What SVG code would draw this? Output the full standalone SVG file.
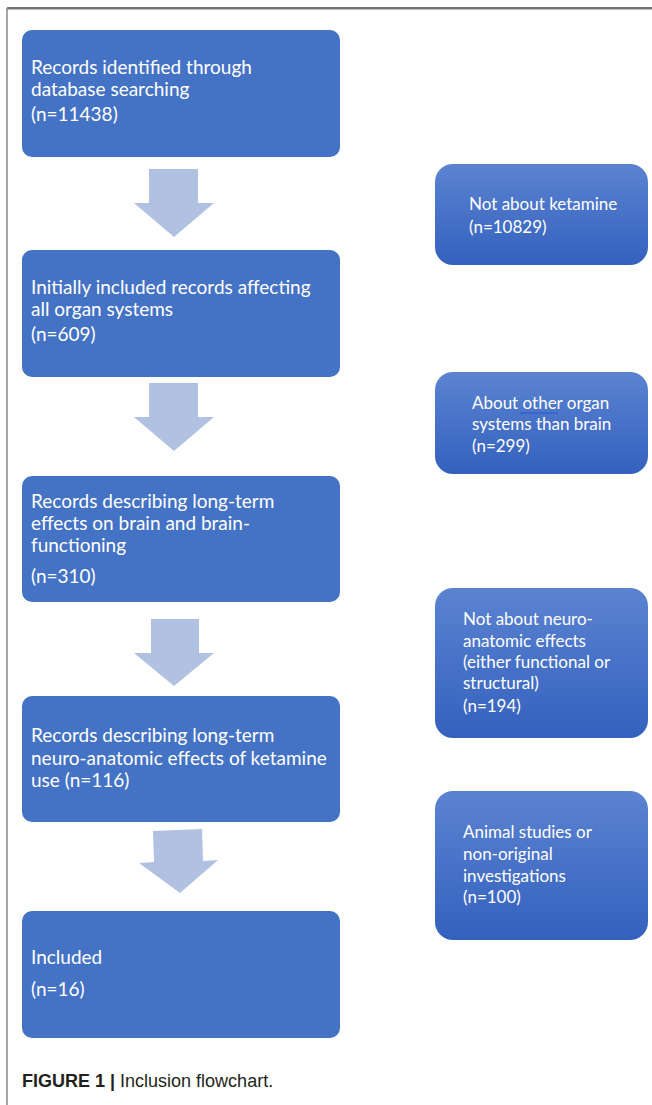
<svg xmlns="http://www.w3.org/2000/svg" width="652" height="1105" viewBox="0 0 652 1105">
<defs>
<linearGradient id="gr" x1="0" y1="0" x2="0" y2="1">
<stop offset="0" stop-color="#5b83d1"/>
<stop offset="1" stop-color="#3461be"/>
</linearGradient>
</defs>
<style>
.lb{fill:#4472c4}
.rb{fill:url(#gr)}
.lt{font-family:Lato,"Liberation Sans",sans-serif;font-size:19px;fill:#fff}
.rt{font-family:Lato,"Liberation Sans",sans-serif;font-size:17px;fill:#fff}
.ar{fill:#b1c1e1}
.cap{font-family:"Liberation Sans",Arial,sans-serif;font-size:18px;fill:#231f20}
</style>
<rect width="652" height="1105" fill="#fff"/>
<g id="frame">
<line x1="7" y1="8" x2="652" y2="8" stroke="#444" stroke-width="1.5"/>
<line x1="7" y1="9.5" x2="652" y2="9.5" stroke="#bbb" stroke-width="1"/>
<line x1="7" y1="8" x2="7" y2="1105" stroke="#888" stroke-width="1.5"/>
</g>
<g id="connectors">
<polygon class="ar" points="149,169 198,169 198,203 214,203 174,237 134,203 149,203"/>
<polygon class="ar" points="149,383 198,383 198,417 214,417 174,451 134,417 149,417"/>
<polygon class="ar" points="151,619 199,619 199,653 214,653 174,686 134,653 151,653"/>
<polygon class="ar" points="153,831 202,829 203,861 218,860 180,893 139,863 154,862"/>
</g>
<g id="n1">
<rect class="lb" x="22" y="30" width="318" height="127" rx="10"/>
<text class="lt" x="31" y="74">Records identified through</text>
<text class="lt" x="31" y="96">database searching</text>
<text class="lt" x="31" y="121">(n=11438)</text>
</g>
<g id="n2">
<rect class="lb" x="22" y="250" width="318" height="127" rx="10"/>
<text class="lt" x="31" y="294">Initially included records affecting</text>
<text class="lt" x="31" y="316">all organ systems</text>
<text class="lt" x="31" y="341">(n=609)</text>
</g>
<g id="n3">
<rect class="lb" x="22" y="476" width="318" height="126" rx="10"/>
<text class="lt" x="31" y="508">Records describing long-term</text>
<text class="lt" x="31" y="530">effects on brain and brain-</text>
<text class="lt" x="31" y="552">functioning</text>
<text class="lt" x="31" y="583">(n=310)</text>
</g>
<g id="n4">
<rect class="lb" x="22" y="696" width="318" height="126" rx="10"/>
<text class="lt" x="31" y="742">Records describing long-term</text>
<text class="lt" x="31" y="765">neuro-anatomic effects of ketamine</text>
<text class="lt" x="31" y="787">use (n=116)</text>
</g>
<g id="n5">
<rect class="lb" x="22" y="911" width="318" height="127" rx="10"/>
<text class="lt" x="31" y="964">Included</text>
<text class="lt" x="31" y="996">(n=16)</text>
</g>
<g id="e1">
<rect class="rb" x="435" y="164" width="213" height="101" rx="18"/>
<text class="rt" x="469" y="210">Not about ketamine</text>
<text class="rt" x="469" y="233">(n=10829)</text>
</g>
<g id="e2">
<rect class="rb" x="435" y="372" width="213" height="102" rx="18"/>
<text class="rt" x="472" y="409">About other organ</text>
<text class="rt" x="472" y="430">systems than brain</text>
<text class="rt" x="472" y="452">(n=299)</text>
<line x1="520" y1="413" x2="558" y2="413" stroke="#2f55d4" stroke-width="1.2"/>
</g>
<g id="e3">
<rect class="rb" x="435" y="588" width="213" height="150" rx="18"/>
<text class="rt" x="463" y="625">Not about neuro-</text>
<text class="rt" x="463" y="647">anatomic effects</text>
<text class="rt" x="463" y="668">(either functional or</text>
<text class="rt" x="463" y="689">structural)</text>
<text class="rt" x="463" y="712">(n=194)</text>
</g>
<g id="e4">
<rect class="rb" x="435" y="791" width="213" height="149" rx="18"/>
<text class="rt" x="463" y="838">Animal studies or</text>
<text class="rt" x="463" y="860">non-original</text>
<text class="rt" x="463" y="882">investigations</text>
<text class="rt" x="463" y="903">(n=100)</text>
</g>
<g id="caption">
<text class="cap" x="22" y="1087"><tspan font-weight="bold">FIGURE 1 |</tspan> Inclusion flowchart.</text>
</g>
</svg>
